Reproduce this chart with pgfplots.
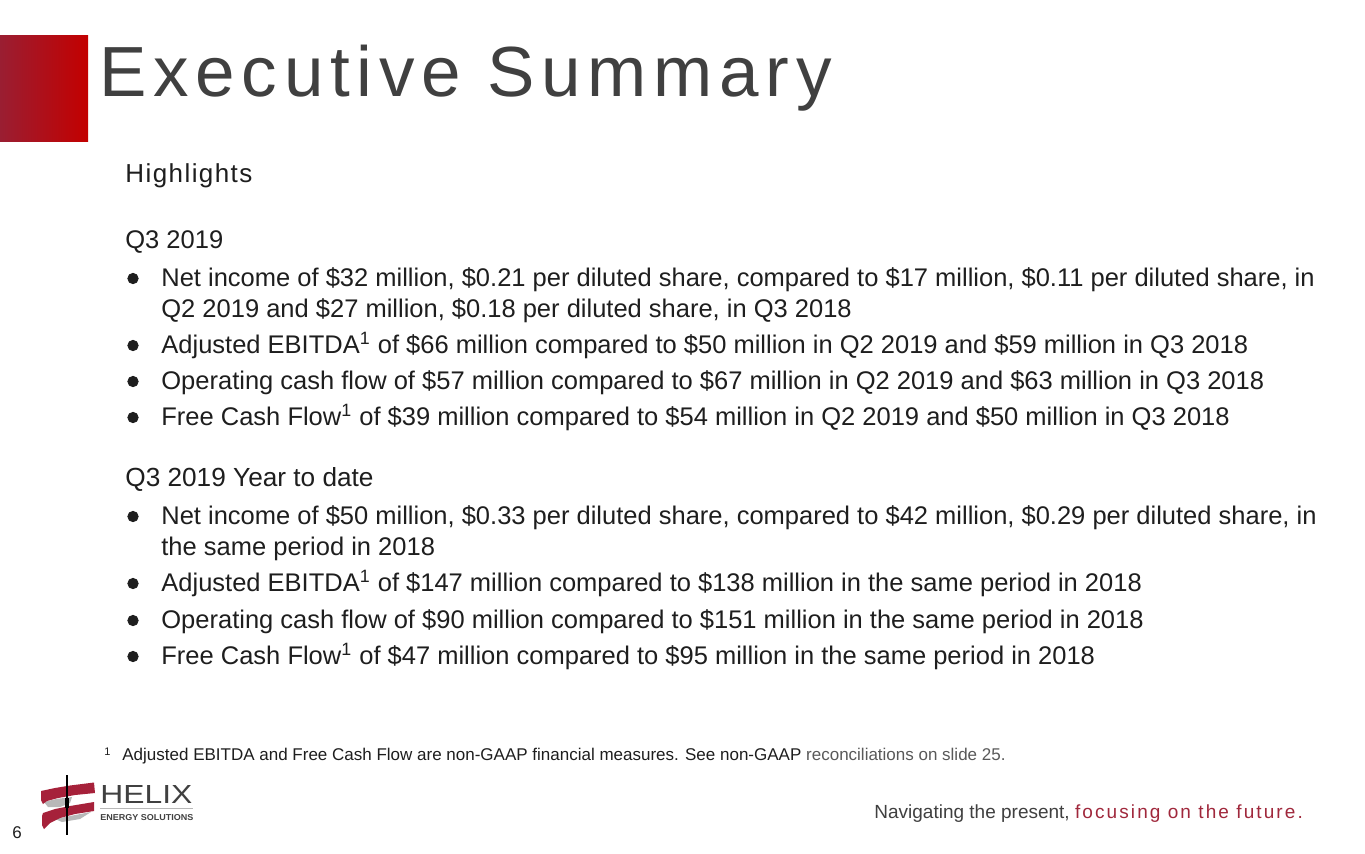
\documentclass[border=0pt]{standalone}
\usepackage{pgfplots}
\pgfplotsset{compat=1.18}
\usepackage{fontspec}
\setmainfont{Liberation Sans}
\newfontfamily\titlefont[LetterSpace=9.5]{Liberation Sans}
\newfontfamily\spacedfont[LetterSpace=11]{Liberation Sans}
\newfontfamily\hlfont[LetterSpace=5.5]{Liberation Sans}
\definecolor{titlegray}{HTML}{404040}
\definecolor{bodyblack}{HTML}{1E1E1E}
\definecolor{helixred}{HTML}{A6213A}
\definecolor{helixgray}{HTML}{B8B8B8}
\definecolor{boxleft}{HTML}{9A1E32}
\definecolor{boxright}{HTML}{C30000}
\definecolor{tagred}{HTML}{A0283C}
\definecolor{notegray}{HTML}{595959}
\newcommand\bodyfont{\fontsize{12.75pt}{15pt}\selectfont}
\begin{document}
\begin{tikzpicture}
\begin{axis}[width=682.5pt,height=426.5pt,scale only axis,
  xmin=0,xmax=1365,ymin=0,ymax=853,y dir=reverse,hide axis,clip=false]
% background
\addplot[draw=none,fill=white] coordinates {(0,0)(1365,0)(1365,853)(0,853)} -- cycle;
% red title box
\addplot[draw=none,left color=boxleft,right color=boxright] coordinates {(0,35)(88,35)(88,141)(0,141)} -- cycle;
% title
\node[anchor=base west,inner sep=0pt,text=titlegray,font=\titlefont\fontsize{35.5pt}{40pt}\selectfont] at (axis cs:99,96) {Executive Summary};
% headers
\node[anchor=base west,inner sep=0pt,text=bodyblack,font=\hlfont\fontsize{13pt}{15pt}\selectfont] at (axis cs:125,182) {Highlights};
\node[anchor=base west,inner sep=0pt,text=bodyblack,font=\bodyfont] at (axis cs:125,248) {Q3 2019};
\node[anchor=base west,inner sep=0pt,text=bodyblack,font=\fontsize{13.1pt}{15pt}\selectfont] at (axis cs:125,486) {Q3 2019 Year to date};
% bullets
\addplot[only marks,mark=*,mark size=2.6pt,color=bodyblack] coordinates {(133,278.5)(133,345.5)(133,381.5)(133,417.5)(133,516.5)(133,583.5)(133,620.5)(133,656.5)};
% block 1
\node[anchor=base west,inner sep=0pt,text=bodyblack,font=\bodyfont] at (axis cs:161,286) {Net income of \$32 million, \$0.21 per diluted share, compared to \$17 million, \$0.11 per diluted share, in};
\node[anchor=base west,inner sep=0pt,text=bodyblack,font=\bodyfont] at (axis cs:161,317) {Q2 2019 and \$27 million, \$0.18 per diluted share, in Q3 2018};
\node[anchor=base west,inner sep=0pt,text=bodyblack,font=\bodyfont] at (axis cs:161,353) {Adjusted EBITDA\textsuperscript{1} of \$66 million compared to \$50 million in Q2 2019 and \$59 million in Q3 2018};
\node[anchor=base west,inner sep=0pt,text=bodyblack,font=\bodyfont] at (axis cs:161,389) {Operating cash flow of \$57 million compared to \$67 million in Q2 2019 and \$63 million in Q3 2018};
\node[anchor=base west,inner sep=0pt,text=bodyblack,font=\bodyfont] at (axis cs:161,425) {Free Cash Flow\textsuperscript{1} of \$39 million compared to \$54 million in Q2 2019 and \$50 million in Q3 2018};
% block 2
\node[anchor=base west,inner sep=0pt,text=bodyblack,font=\bodyfont] at (axis cs:161,524) {Net income of \$50 million, \$0.33 per diluted share, compared to \$42 million, \$0.29 per diluted share, in};
\node[anchor=base west,inner sep=0pt,text=bodyblack,font=\bodyfont] at (axis cs:161,555) {the same period in 2018};
\node[anchor=base west,inner sep=0pt,text=bodyblack,font=\bodyfont] at (axis cs:161,591) {Adjusted EBITDA\textsuperscript{1} of \$147 million compared to \$138 million in the same period in 2018};
\node[anchor=base west,inner sep=0pt,text=bodyblack,font=\bodyfont] at (axis cs:161,628) {Operating cash flow of \$90 million compared to \$151 million in the same period in 2018};
\node[anchor=base west,inner sep=0pt,text=bodyblack,font=\bodyfont] at (axis cs:161,664) {Free Cash Flow\textsuperscript{1} of \$47 million compared to \$95 million in the same period in 2018};
% footnote
\node[anchor=base west,inner sep=0pt,text=bodyblack,font=\fontsize{5.5pt}{6pt}\selectfont] at (axis cs:104,755) {1};
\node[anchor=base west,inner sep=0pt,text=bodyblack,font=\fontsize{8.5pt}{10pt}\selectfont] at (axis cs:122,760) {Adjusted EBITDA and Free Cash Flow are non-GAAP financial measures. See non-GAAP \textcolor{notegray}{reconciliations on slide 25.}};
% tagline
\node[anchor=base west,inner sep=0pt,text=titlegray,font=\fontsize{9.5pt}{11pt}\selectfont] at (axis cs:874,818) {Navigating the present, \textcolor{tagred}{\spacedfont focusing on the future.}};
% page number
\node[anchor=base west,inner sep=0pt,text=bodyblack,font=\fontsize{8.5pt}{10pt}\selectfont] at (axis cs:12,838) {6};
% logo emblem
\addplot[draw=none,fill=helixgray] coordinates {(44,802)(56,799)(72,797)(70,803)(60,807)(48,807)} -- cycle;
\addplot[draw=none,fill=helixgray] coordinates {(55,819)(75,815)(91,812)(80,819)(62,822)} -- cycle;
\addplot[draw=none,fill=helixred] coordinates {(41,791)(55,788)(70,785.5)(94,782.5)(95,793)(75,795)(58,798)(47,801)(43,804)(41,800)} -- cycle;
\addplot[draw=none,fill=helixred] coordinates {(43,813)(55,809)(70,806)(94,802)(94,811)(75,814)(60,818)(50,823)(44,829)(42,825)(42,816)} -- cycle;
\addplot[black,line width=0.9pt] coordinates {(67,775)(67,835)};
\addplot[black,line width=1.6pt] coordinates {(67,798)(67,808)};
% logo text
\node[anchor=base west,inner sep=0pt,text=titlegray] at (axis cs:100,803) {\resizebox{46pt}{9pt}{\fontsize{12pt}{12pt}\selectfont HELIX}};
\addplot[helixgray,line width=0.5pt] coordinates {(100,808.5)(193,808.5)};
\node[anchor=base west,inner sep=0pt,text=titlegray] at (axis cs:100,820) {\resizebox{46.5pt}{3pt}{\fontsize{6pt}{6pt}\selectfont\bfseries ENERGY SOLUTIONS}};
\end{axis}
\end{tikzpicture}
\end{document}
